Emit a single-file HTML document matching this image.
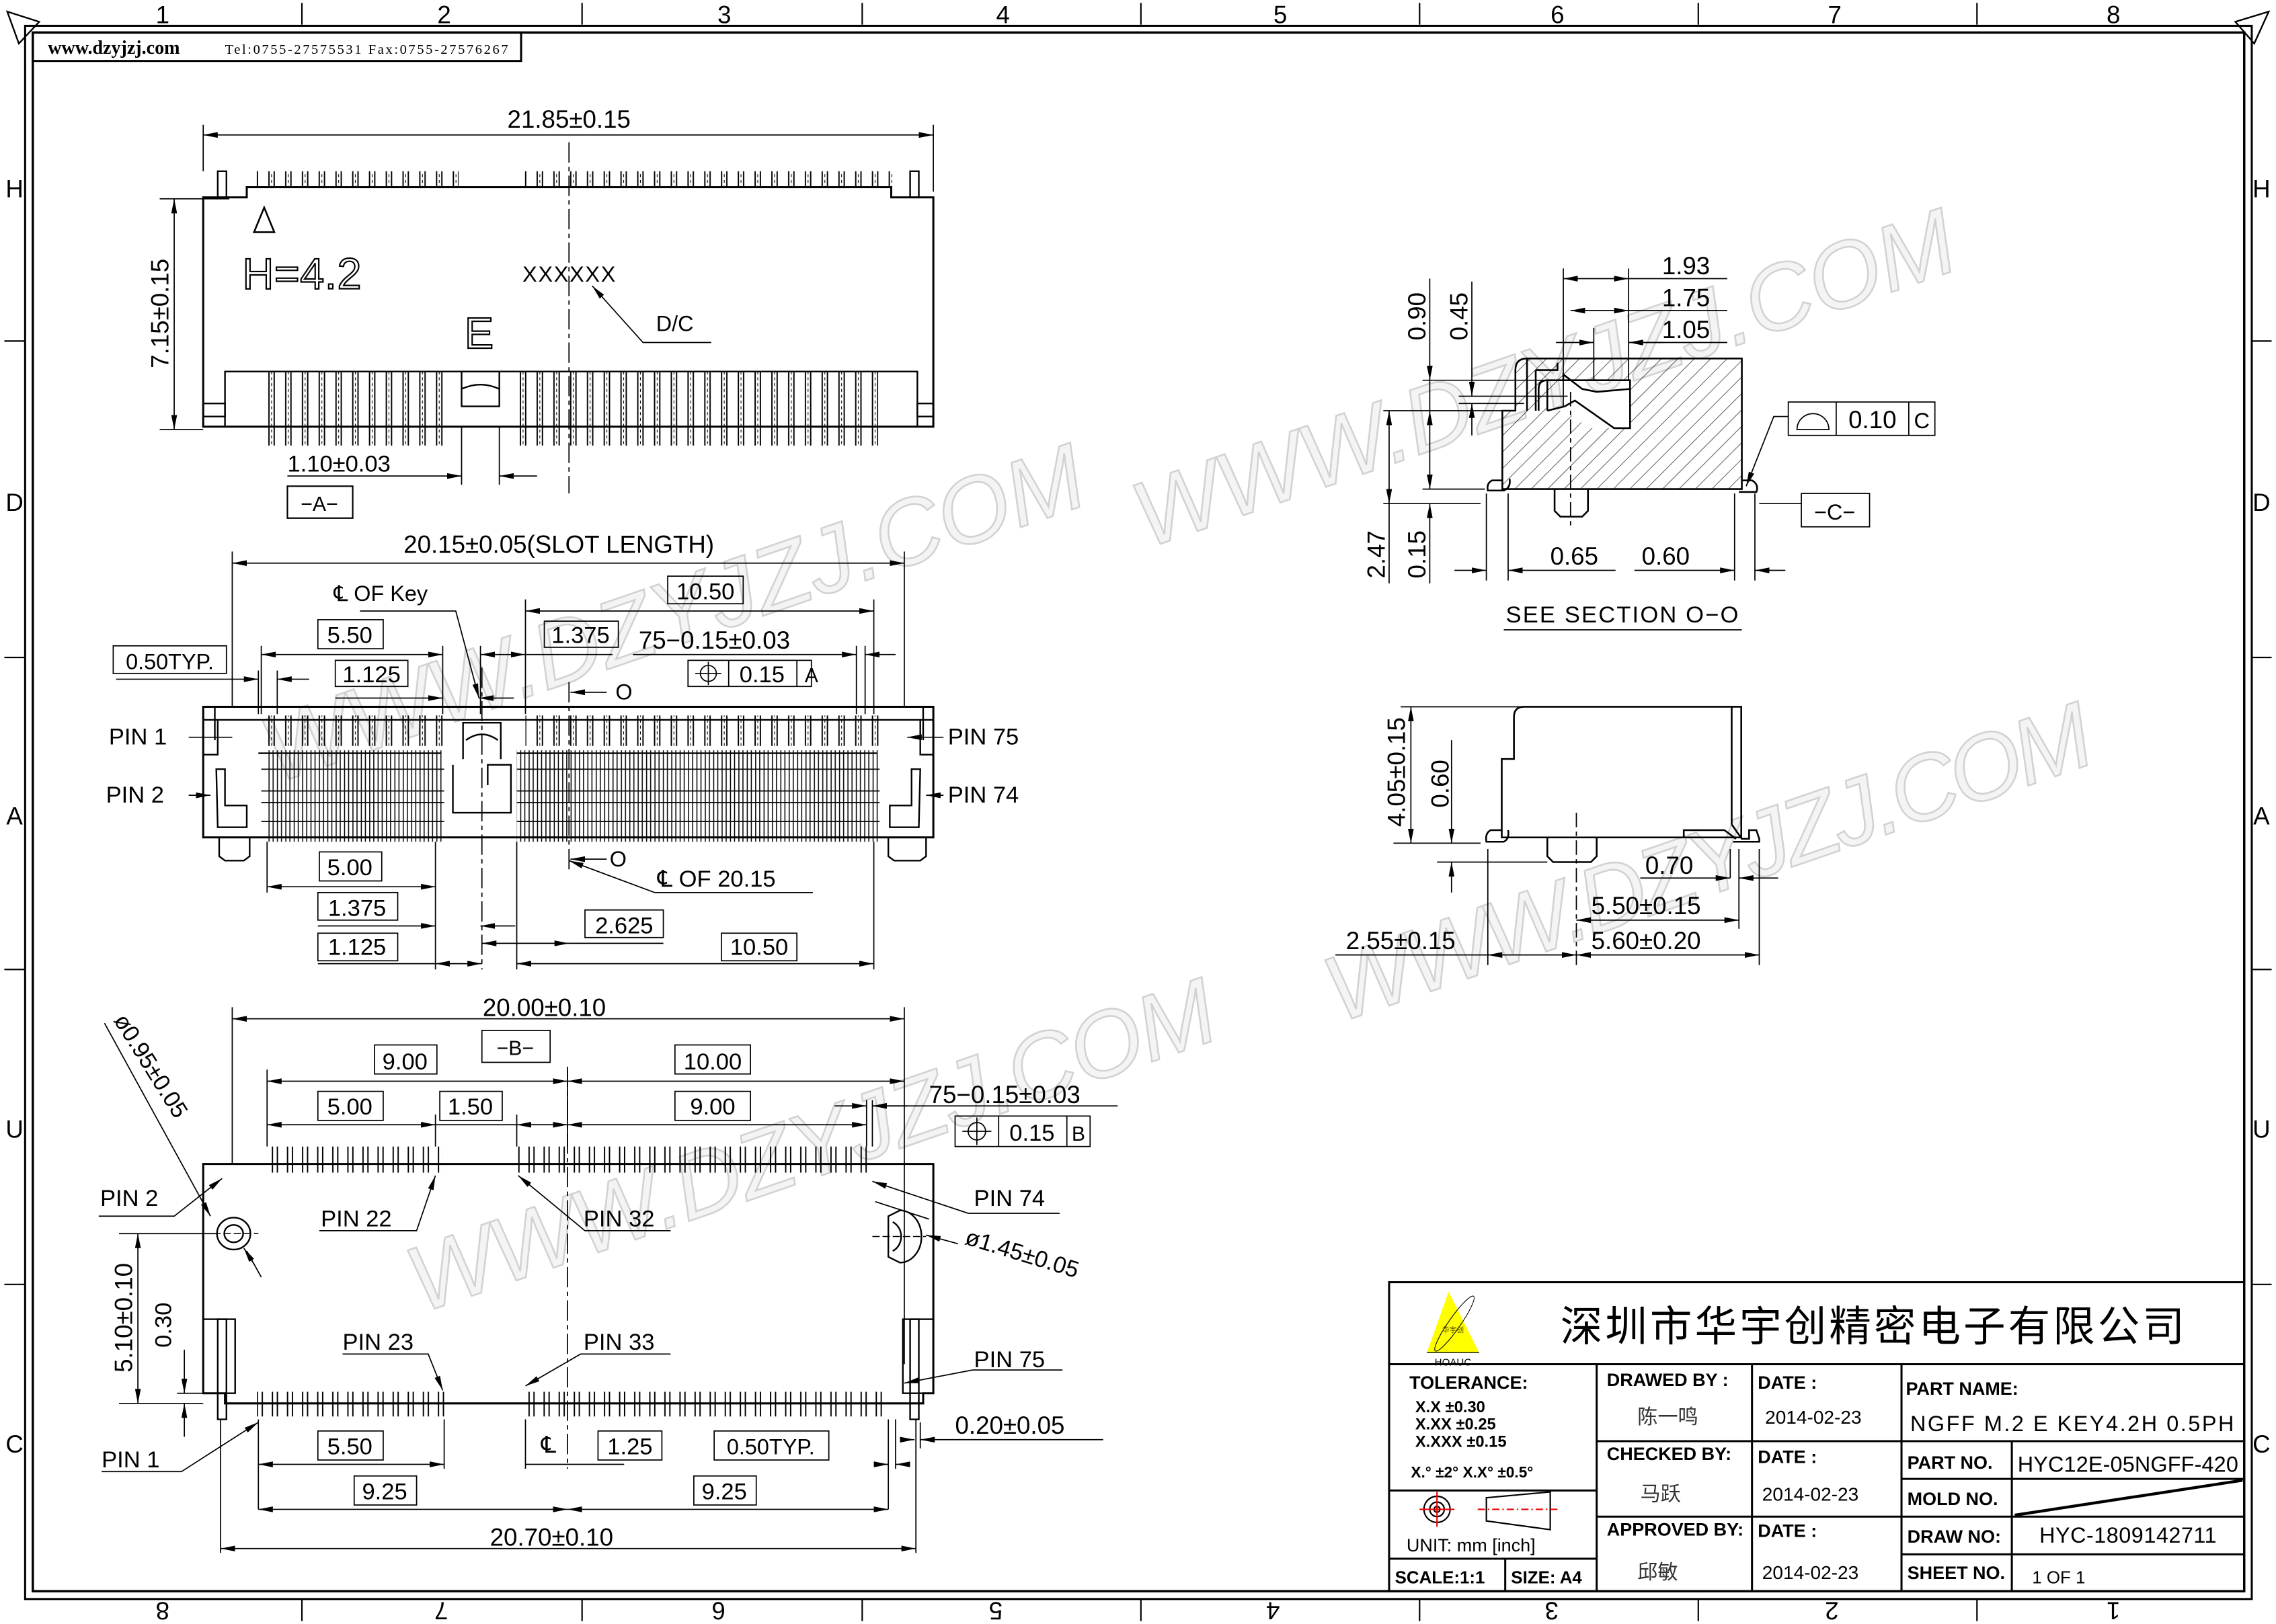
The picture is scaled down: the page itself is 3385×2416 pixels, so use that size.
<!DOCTYPE html>
<html><head><meta charset="utf-8">
<style>
html,body{margin:0;padding:0;background:#fff;}
svg{display:block;}
text{font-family:"Liberation Sans","Noto Sans CJK SC",sans-serif;fill:#000;}
.s{font-family:"Liberation Serif","Noto Serif CJK SC",serif;}
</style></head><body>
<svg width="3385" height="2416" viewBox="0 0 1568 1119" preserveAspectRatio="none" xmlns="http://www.w3.org/2000/svg">
<defs>
<marker id="a" viewBox="0 0 10 4" refX="10" refY="2" markerWidth="10" markerHeight="4" markerUnits="userSpaceOnUse" orient="auto-start-reverse"><path d="M0,0 L10,2 L0,4z" fill="#000"/></marker>
<pattern id="pA" width="11.55" height="200" patternUnits="userSpaceOnUse"><rect x="0.5" y="-1" width="3.6" height="202" fill="none" stroke="#000" stroke-width="0.9"/><line x1="2.3" y1="0" x2="2.3" y2="200" stroke="#000" stroke-width="0.5" stroke-dasharray="2,2"/></pattern>
<pattern id="pB" width="5.78" height="200" patternUnits="userSpaceOnUse"><rect x="0.4" y="-1" width="2.8" height="202" fill="none" stroke="#000" stroke-width="0.7"/></pattern>
<pattern id="pC" width="10.4" height="200" patternUnits="userSpaceOnUse"><rect x="0.5" y="-1" width="3.4" height="202" fill="none" stroke="#000" stroke-width="0.9"/></pattern>
<pattern id="hat" width="8" height="8" patternUnits="userSpaceOnUse" patternTransform="rotate(45)"><line x1="0" y1="0" x2="0" y2="8" stroke="#000" stroke-width="0.6"/></pattern>
</defs>
<g fill="none" stroke="#000" stroke-width="1.1">
<rect x="17.3" y="17.8" width="1534" height="1084" stroke-width="1.4"/>
<rect x="22.6" y="22.4" width="1523.5" height="1074" stroke-width="1.6"/>
<rect x="22.6" y="22.4" width="336.4" height="19.6" stroke-width="1.4"/>
<path d="M5,8 L27,15 L13,30 Z"/>
<path d="M1563,8 L1540,15 L1553,30 Z"/>
<g stroke-width="1">
<line x1="208" y1="2" x2="208" y2="17"/><line x1="401" y1="2" x2="401" y2="17"/><line x1="594" y1="2" x2="594" y2="17"/><line x1="786" y1="2" x2="786" y2="17"/><line x1="978" y1="2" x2="978" y2="17"/><line x1="1170" y1="2" x2="1170" y2="17"/><line x1="1362" y1="2" x2="1362" y2="17"/>
<line x1="208" y1="1102" x2="208" y2="1117"/><line x1="401" y1="1102" x2="401" y2="1117"/><line x1="594" y1="1102" x2="594" y2="1117"/><line x1="786" y1="1102" x2="786" y2="1117"/><line x1="978" y1="1102" x2="978" y2="1117"/><line x1="1170" y1="1102" x2="1170" y2="1117"/><line x1="1362" y1="1102" x2="1362" y2="1117"/>
<line x1="3" y1="235" x2="17" y2="235"/><line x1="3" y1="453" x2="17" y2="453"/><line x1="3" y1="668" x2="17" y2="668"/><line x1="3" y1="885" x2="17" y2="885"/>
<line x1="1551" y1="235" x2="1565" y2="235"/><line x1="1551" y1="453" x2="1565" y2="453"/><line x1="1551" y1="668" x2="1565" y2="668"/><line x1="1551" y1="885" x2="1565" y2="885"/>
</g>
</g>
<g font-size="17" text-anchor="middle">
<text x="112" y="16">1</text><text x="306" y="16">2</text><text x="499" y="16">3</text><text x="691" y="16">4</text><text x="882" y="16">5</text><text x="1073" y="16">6</text><text x="1264" y="16">7</text><text x="1456" y="16">8</text>
<g transform="rotate(180 784 1110)"><text x="112" y="1116">1</text><text x="306" y="1116">2</text><text x="499" y="1116">3</text><text x="691" y="1116">4</text><text x="882" y="1116">5</text><text x="1073" y="1116">6</text><text x="1264" y="1116">7</text><text x="1456" y="1116">8</text></g>
<text x="10" y="136">H</text><text x="10" y="352">D</text><text x="10" y="568">A</text><text x="10" y="784">U</text><text x="10" y="1001">C</text>
<text x="1558" y="136">H</text><text x="1558" y="352">D</text><text x="1558" y="568">A</text><text x="1558" y="784">U</text><text x="1558" y="1001">C</text>
</g>
<text class="s" x="33" y="37" font-size="13" font-weight="bold">www.dzyjzj.com</text>
<text class="s" x="155" y="37" font-size="9.5" textLength="195">Tel:0755-27575531  Fax:0755-27576267</text>

<g font-size="64" font-style="italic" stroke="#d2d2d2" stroke-width="1.2" font-family="Liberation Sans,sans-serif" letter-spacing="6">
<text x="790" y="378" transform="rotate(-19 790 378)" textLength="600" style="fill:#f4f4f4">WWW.DZYJZJ.COM</text>
<text x="190" y="540" transform="rotate(-19 190 540)" textLength="600" style="fill:#f4f4f4">WWW.DZYJZJ.COM</text>
<text x="290" y="905" transform="rotate(-19 290 905)" textLength="590" style="fill:#f4f4f4">WWW.DZYJZJ.COM</text>
<text x="922" y="705" transform="rotate(-19 922 705)" textLength="560" style="fill:#f4f4f4">WWW.DZYJZJ.COM</text>
</g>

<!-- VIEW 1 -->
<g fill="none" stroke="#000" stroke-width="1.1">
<path d="M140,294 L140,136 L170,136 L170,129 L614,129 L614,136 L643,136 L643,294 Z" stroke-width="1.4"/>
<rect x="155" y="256" width="477" height="38"/>
<line x1="392" y1="98" x2="392" y2="340" stroke-width="0.8" stroke-dasharray="14,3,3,3"/>
<rect x="318" y="256" width="26" height="24"/>
<path d="M318,268 Q331,262 344,268"/>
<rect x="140" y="278" width="15" height="9"/><rect x="632" y="278" width="11" height="9"/>
<rect x="150" y="118" width="6" height="18"/><rect x="627" y="118" width="6" height="18"/>
</g>
<rect x="176" y="118" width="140" height="11" fill="url(#pA)"/>
<rect x="361" y="118" width="254" height="11" fill="url(#pA)"/>
<rect x="181" y="256" width="128" height="38" fill="url(#pA)"/>
<rect x="353" y="256" width="252" height="38" fill="url(#pA)"/>
<rect x="181" y="294" width="128" height="13" fill="url(#pA)"/>
<rect x="353" y="294" width="252" height="13" fill="url(#pA)"/>
<path d="M175,160 L182,143 L189,160 Z" fill="none" stroke="#000" stroke-width="1.2"/>
<text x="167" y="199" font-size="30" stroke="#000" stroke-width="1" textLength="82" style="fill:#fff">H=4.2</text>
<text x="320" y="240" font-size="30" stroke="#000" stroke-width="1" style="fill:#fff">E</text>
<text x="360" y="194" font-size="15" textLength="64">XXXXXX</text>
<g fill="none" stroke="#000" stroke-width="0.8"><path d="M408,197 L443,236 L490,236" marker-start="url(#a)"/></g>
<text x="452" y="228" font-size="15">D/C</text>
<g fill="none" stroke="#000" stroke-width="0.8">
<line x1="140" y1="86" x2="140" y2="118"/><line x1="643" y1="86" x2="643" y2="132"/>
<line x1="140" y1="93" x2="643" y2="93" marker-start="url(#a)" marker-end="url(#a)"/>
<line x1="110" y1="137" x2="158" y2="137"/><line x1="110" y1="296" x2="140" y2="296"/>
<line x1="120" y1="137" x2="120" y2="296" marker-start="url(#a)" marker-end="url(#a)"/>
<line x1="318" y1="294" x2="318" y2="334"/><line x1="344" y1="294" x2="344" y2="334"/>
<line x1="198" y1="328" x2="318" y2="328" marker-end="url(#a)"/><line x1="370" y1="328" x2="344" y2="328" marker-end="url(#a)"/>
<rect x="198" y="335" width="45" height="22" stroke-width="1"/>
</g>
<text x="392" y="88" font-size="17" text-anchor="middle">21.85±0.15</text>
<text transform="translate(116,216) rotate(-90)" font-size="17" text-anchor="middle">7.15±0.15</text>
<text x="198" y="325" font-size="16">1.10±0.03</text>
<text x="220" y="352" font-size="14" text-anchor="middle">−A−</text>

<!-- VIEW 2 -->
<g fill="none" stroke="#000" stroke-width="1.1">
<path d="M140,487 L643,487 L643,577 L140,577 Z" stroke-width="1.4"/>
<line x1="140" y1="496" x2="643" y2="496"/>
<line x1="148" y1="487" x2="148" y2="510"/><line x1="636" y1="487" x2="636" y2="510"/>
<path d="M150,496 L150,520 L140,520"/><path d="M634,496 L634,520 L643,520"/>
<path d="M149,530 L155,530 L155,555 L170,555 L170,570 L150,570 Z"/>
<path d="M634,530 L628,530 L628,555 L613,555 L613,570 L633,570 Z"/>
<line x1="178" y1="519" x2="304" y2="519"/><line x1="356" y1="519" x2="604" y2="519"/>
<path d="M319,523 L319,498 L345,498 L345,523"/><path d="M321,510 Q332,502 343,510"/>
<path d="M312,527 L312,560 L352,560 L352,527 L336,527 L336,541"/>
<path d="M151,577 L151,590 L155,593 L168,593 L172,590 L172,577"/>
<path d="M612,577 L612,590 L616,593 L634,593 L638,590 L638,577"/>
</g>
<rect x="178" y="493" width="130" height="21" fill="url(#pA)"/>
<rect x="362" y="493" width="246" height="21" fill="url(#pA)"/>
<rect x="183" y="517" width="123" height="63" fill="url(#pB)"/>
<rect x="356" y="517" width="250" height="63" fill="url(#pB)"/>
<g fill="none" stroke="#000" stroke-width="0.8">
<line x1="180" y1="530" x2="306" y2="530"/><line x1="356" y1="530" x2="606" y2="530"/>
<line x1="180" y1="545" x2="306" y2="545"/><line x1="356" y1="545" x2="606" y2="545"/>
<line x1="180" y1="553" x2="306" y2="553"/><line x1="356" y1="553" x2="606" y2="553"/>
<line x1="180" y1="566" x2="306" y2="566"/><line x1="356" y1="566" x2="606" y2="566"/>
<line x1="392" y1="470" x2="392" y2="600" stroke-dasharray="14,3,3,3"/>
<line x1="332" y1="460" x2="332" y2="668" stroke-dasharray="14,3,3,3"/>
<line x1="160" y1="380" x2="160" y2="487"/><line x1="623" y1="380" x2="623" y2="487"/>
<line x1="160" y1="388" x2="623" y2="388" marker-start="url(#a)" marker-end="url(#a)"/>
<rect x="460" y="397" width="52" height="19"/>
<line x1="362" y1="413" x2="362" y2="492"/><line x1="602" y1="413" x2="602" y2="492"/>
<line x1="362" y1="421" x2="602" y2="421" marker-start="url(#a)" marker-end="url(#a)"/>
<path d="M248,421 L314,421 L330,481" marker-end="url(#a)"/>
<rect x="219" y="427" width="45" height="20"/>
<line x1="180" y1="445" x2="180" y2="492"/><line x1="305" y1="445" x2="305" y2="492"/>
<line x1="180" y1="451" x2="305" y2="451" marker-start="url(#a)" marker-end="url(#a)"/>
<rect x="375" y="428" width="51" height="18"/>
<line x1="331" y1="445" x2="331" y2="492"/>
<line x1="331" y1="451" x2="362" y2="451" marker-start="url(#a)" marker-end="url(#a)"/>
<line x1="362" y1="451" x2="422" y2="451"/>
<line x1="436" y1="451" x2="590" y2="451" marker-end="url(#a)"/>
<line x1="617" y1="451" x2="596" y2="451" marker-end="url(#a)"/>
<line x1="590" y1="445" x2="590" y2="492"/><line x1="596" y1="445" x2="596" y2="492"/>
<rect x="474" y="455" width="85" height="18"/><line x1="502" y1="455" x2="502" y2="473"/><line x1="549" y1="455" x2="549" y2="473"/>
<circle cx="488" cy="464" r="5.5"/><line x1="479" y1="464" x2="497" y2="464"/><line x1="488" y1="456" x2="488" y2="472"/>
<rect x="78" y="445" width="78" height="19"/>
<line x1="80" y1="468" x2="178" y2="468" marker-end="url(#a)"/>
<line x1="213" y1="468" x2="191" y2="468" marker-end="url(#a)"/>
<line x1="178" y1="462" x2="178" y2="492"/><line x1="191" y1="462" x2="191" y2="492"/>
<rect x="231" y="455" width="50" height="18"/>
<line x1="231" y1="481" x2="305" y2="481" marker-end="url(#a)"/>
<line x1="354" y1="481" x2="330" y2="481" marker-end="url(#a)"/>
<line x1="418" y1="477" x2="393" y2="477" marker-end="url(#a)"/>
<line x1="130" y1="508" x2="160" y2="508"/><line x1="130" y1="548" x2="145" y2="548" marker-end="url(#a)"/>
<line x1="650" y1="508" x2="625" y2="508" marker-end="url(#a)"/><line x1="650" y1="548" x2="638" y2="548" marker-end="url(#a)"/>
<line x1="184" y1="580" x2="184" y2="615"/><line x1="300" y1="580" x2="300" y2="668"/>
<rect x="220" y="587" width="43" height="20"/>
<line x1="184" y1="611" x2="300" y2="611" marker-start="url(#a)" marker-end="url(#a)"/>
<line x1="418" y1="592" x2="393" y2="592" marker-end="url(#a)"/>
<path d="M451,615 L392,593" marker-end="url(#a)"/>
<line x1="451" y1="615" x2="560" y2="615"/>
<rect x="219" y="615" width="55" height="19"/>
<line x1="219" y1="638" x2="300" y2="638" marker-end="url(#a)"/>
<line x1="355" y1="638" x2="331" y2="638" marker-end="url(#a)"/>
<rect x="403" y="627" width="54" height="19"/>
<line x1="356" y1="580" x2="356" y2="668"/><line x1="602" y1="580" x2="602" y2="668"/>
<line x1="332" y1="650" x2="392" y2="650" marker-start="url(#a)" marker-end="url(#a)"/>
<line x1="392" y1="650" x2="457" y2="650"/>
<rect x="219" y="643" width="55" height="19"/>
<line x1="219" y1="664" x2="300" y2="664"/>
<line x1="300" y1="664" x2="332" y2="664" marker-start="url(#a)" marker-end="url(#a)"/>
<rect x="497" y="643" width="52" height="19"/>
<line x1="356" y1="664" x2="602" y2="664" marker-start="url(#a)" marker-end="url(#a)"/>
</g>
<g font-size="16">
<text x="385" y="381" text-anchor="middle" font-size="17">20.15±0.05(SLOT LENGTH)</text>
<text x="486" y="413" text-anchor="middle">10.50</text>
<text x="230" y="414" font-size="15">℄  OF  Key</text>
<text x="241" y="443" text-anchor="middle">5.50</text>
<text x="400" y="443" text-anchor="middle">1.375</text>
<text x="440" y="447" font-size="17">75−0.15±0.03</text>
<text x="525" y="470" text-anchor="middle">0.15</text><text x="559" y="470" text-anchor="middle" font-size="14">A</text>
<text x="117" y="461" text-anchor="middle" font-size="15">0.50TYP.</text>
<text x="256" y="470" text-anchor="middle">1.125</text>
<text x="424" y="482" font-size="15">O</text>
<text x="75" y="513">PIN  1</text><text x="73" y="553">PIN  2</text>
<text x="653" y="513">PIN  75</text><text x="653" y="553">PIN  74</text>
<text x="241" y="603" text-anchor="middle">5.00</text>
<text x="420" y="597" font-size="15">O</text>
<text x="453" y="611">℄  OF  20.15</text>
<text x="246" y="631" text-anchor="middle">1.375</text>
<text x="430" y="643" text-anchor="middle">2.625</text>
<text x="246" y="658" text-anchor="middle">1.125</text>
<text x="523" y="658" text-anchor="middle">10.50</text>
</g>

<!-- VIEW 3 -->
<g fill="none" stroke="#000" stroke-width="1.1">
<path d="M140,802 L643,802 L643,960 L636,960 L636,967 L155,967 L155,960 L140,960 Z" stroke-width="1.4"/>
<rect x="140" y="909" width="22" height="51"/><rect x="622" y="909" width="21" height="51"/>
<rect x="150" y="909" width="6" height="69"/><rect x="627" y="909" width="6" height="69"/>
<ellipse cx="161" cy="850" rx="11.5" ry="11"/><ellipse cx="161" cy="850" rx="6.5" ry="6"/>
<path d="M612,838 L620,834 A14,17 0 0 1 620,870 L612,866 Z"/><path d="M615,842 A10,11 0 0 1 615,862"/>
<line x1="147" y1="850" x2="178" y2="850" stroke-width="0.7" stroke-dasharray="5,2"/>
<line x1="601" y1="852" x2="638" y2="852" stroke-width="0.7" stroke-dasharray="5,2"/>
<line x1="391" y1="735" x2="391" y2="1012" stroke-width="0.8" stroke-dasharray="14,3,3,3"/>
</g>
<rect x="183" y="790" width="122" height="18" fill="url(#pC)"/>
<rect x="355" y="790" width="248" height="18" fill="url(#pC)"/>
<rect x="177" y="959" width="134" height="17" fill="url(#pC)"/>
<rect x="361" y="959" width="250" height="17" fill="url(#pC)"/>
<g fill="none" stroke="#000" stroke-width="0.8">
<line x1="160" y1="694" x2="160" y2="802"/><line x1="623" y1="694" x2="623" y2="940"/>
<line x1="160" y1="702" x2="623" y2="702" marker-start="url(#a)" marker-end="url(#a)"/>
<rect x="332" y="710" width="47" height="22"/>
<rect x="258" y="720" width="43" height="20"/><rect x="465" y="720" width="52" height="20"/>
<line x1="184" y1="737" x2="184" y2="790"/><line x1="391" y1="737" x2="391" y2="790"/>
<line x1="184" y1="745" x2="391" y2="745" marker-start="url(#a)" marker-end="url(#a)"/>
<line x1="391" y1="745" x2="623" y2="745" marker-start="url(#a)" marker-end="url(#a)"/>
<rect x="219" y="752" width="45" height="20"/><rect x="303" y="752" width="43" height="20"/><rect x="465" y="752" width="52" height="20"/>
<line x1="300" y1="768" x2="300" y2="790"/><line x1="356" y1="768" x2="356" y2="790"/>
<line x1="184" y1="775" x2="300" y2="775" marker-start="url(#a)" marker-end="url(#a)"/>
<line x1="300" y1="775" x2="356" y2="775"/>
<line x1="356" y1="775" x2="391" y2="775" marker-start="url(#a)" marker-end="url(#a)"/>
<line x1="391" y1="775" x2="597" y2="775" marker-start="url(#a)" marker-end="url(#a)"/>
<line x1="597" y1="758" x2="597" y2="790"/><line x1="601" y1="758" x2="601" y2="790"/>
<line x1="575" y1="762" x2="597" y2="762" marker-end="url(#a)"/><line x1="625" y1="762" x2="601" y2="762" marker-end="url(#a)"/>
<line x1="601" y1="762" x2="770" y2="762"/>
<rect x="658" y="769" width="93" height="21"/><line x1="688" y1="769" x2="688" y2="790"/><line x1="735" y1="769" x2="735" y2="790"/>
<circle cx="673" cy="779.5" r="6"/><line x1="663" y1="779.5" x2="683" y2="779.5"/><line x1="673" y1="770" x2="673" y2="789"/>
<path d="M68,838 L120,838 L153,812" marker-end="url(#a)"/>
<path d="M220,848 L287,848 L300,810" marker-end="url(#a)"/>
<path d="M462,848 L403,848 L357,810" marker-end="url(#a)"/>
<path d="M730,836 L667,836 L601,814" marker-end="url(#a)"/>
<path d="M236,933 L295,933 L305,958" marker-end="url(#a)"/>
<path d="M462,933 L400,933 L362,955" marker-end="url(#a)"/>
<path d="M732,944 L670,944 L623,953" marker-end="url(#a)"/>
<path d="M70,1014 L125,1014 L178,980" marker-end="url(#a)"/>
<path d="M72,705 L145,838" marker-end="url(#a)"/><line x1="170" y1="862" x2="180" y2="880"/>
<path d="M175,871 L168,860" marker-end="url(#a)"/>
<path d="M640,840 L603,828"/>
<path d="M660,857 L638,851" marker-end="url(#a)"/>
<line x1="82" y1="850" x2="150" y2="850"/><line x1="82" y1="967" x2="140" y2="967"/>
<line x1="95" y1="850" x2="95" y2="967" marker-start="url(#a)" marker-end="url(#a)"/>
<line x1="122" y1="960" x2="140" y2="960"/>
<line x1="127" y1="930" x2="127" y2="960" marker-end="url(#a)"/><line x1="127" y1="990" x2="127" y2="967" marker-end="url(#a)"/>
<line x1="178" y1="978" x2="178" y2="1040"/><line x1="306" y1="978" x2="306" y2="1012"/>
<line x1="362" y1="978" x2="362" y2="1012"/><line x1="612" y1="978" x2="612" y2="1040"/>
<line x1="152" y1="978" x2="152" y2="1070"/><line x1="631" y1="978" x2="631" y2="1070"/>
<rect x="219" y="986" width="45" height="20"/><rect x="412" y="986" width="44" height="20"/><rect x="492" y="986" width="79" height="20"/>
<line x1="178" y1="1009" x2="306" y2="1009" marker-start="url(#a)" marker-end="url(#a)"/>
<line x1="362" y1="1009" x2="391" y2="1009"/>
<line x1="391" y1="1009" x2="430" y2="1009"/>
<line x1="604" y1="1009" x2="612" y2="1009" marker-end="url(#a)"/><line x1="625" y1="1009" x2="617" y2="1009" marker-end="url(#a)"/>
<line x1="617" y1="978" x2="617" y2="1012"/>
<line x1="624" y1="992" x2="630" y2="992" marker-end="url(#a)"/><line x1="642" y1="992" x2="634" y2="992" marker-end="url(#a)"/>
<line x1="634" y1="980" x2="634" y2="998"/>
<line x1="642" y1="992" x2="760" y2="992"/>
<rect x="244" y="1017" width="43" height="20"/><rect x="478" y="1017" width="43" height="20"/>
<line x1="178" y1="1040" x2="391" y2="1040" marker-start="url(#a)" marker-end="url(#a)"/>
<line x1="391" y1="1040" x2="612" y2="1040" marker-start="url(#a)" marker-end="url(#a)"/>
<line x1="152" y1="1067" x2="631" y2="1067" marker-start="url(#a)" marker-end="url(#a)"/>
</g>
<g font-size="16">
<text x="375" y="700" text-anchor="middle" font-size="17">20.00±0.10</text>
<text x="355" y="727" text-anchor="middle" font-size="14">−B−</text>
<text x="279" y="737" text-anchor="middle">9.00</text><text x="491" y="737" text-anchor="middle">10.00</text>
<text x="241" y="768" text-anchor="middle">5.00</text><text x="324" y="768" text-anchor="middle">1.50</text><text x="491" y="768" text-anchor="middle">9.00</text>
<text x="640" y="760" font-size="17">75−0.15±0.03</text>
<text x="711" y="786" text-anchor="middle">0.15</text><text x="743" y="786" text-anchor="middle" font-size="14">B</text>
<text transform="translate(78,703) rotate(58)" font-size="16">ø0.95±0.05</text>
<text transform="translate(664,857) rotate(17)" font-size="16">ø1.45±0.05</text>
<text x="69" y="831">PIN  2</text><text x="221" y="845">PIN  22</text><text x="402" y="845">PIN  32</text><text x="671" y="831">PIN  74</text>
<text x="236" y="930">PIN  23</text><text x="402" y="930">PIN  33</text><text x="671" y="942">PIN  75</text><text x="70" y="1011">PIN  1</text>
<text transform="translate(91,908) rotate(-90)" text-anchor="middle" font-size="17">5.10±0.10</text>
<text transform="translate(118,913) rotate(-90)" text-anchor="middle">0.30</text>
<text x="241" y="1002" text-anchor="middle">5.50</text><text x="378" y="1001" text-anchor="middle">℄</text><text x="434" y="1002" text-anchor="middle">1.25</text><text x="531" y="1002" text-anchor="middle" font-size="15">0.50TYP.</text>
<text x="658" y="988" font-size="17">0.20±0.05</text>
<text x="265" y="1033" text-anchor="middle">9.25</text><text x="499" y="1033" text-anchor="middle">9.25</text>
<text x="380" y="1065" text-anchor="middle" font-size="17">20.70±0.10</text>
</g>

<!-- SECTION O-O -->
<path d="M1035,337 L1035,283 L1044,283 L1044,255 Q1044,247 1052,247 L1200,247 L1200,337 Z M1075,262 L1123,262 L1123,295 L1095,295 L1078,283 L1065,283 L1066,270 Z" fill="url(#hat)" fill-rule="evenodd"/>
<g fill="none" stroke="#000" stroke-width="1.2">
<path d="M1035,337 L1035,283 L1044,283 L1044,255 Q1044,247 1052,247 L1200,247 L1200,337 Z"/>
<path d="M1052,247 L1052,283 M1058,255 L1073,255 L1073,250 M1058,255 L1058,283 M1060,283 L1060,268 Q1060,262 1066,262 L1123,262 L1123,295 L1112,295 L1095,283 L1085,276 L1078,280 L1066,283 M1066,262 L1066,283 M1077,262 L1077,258 L1090,268 L1100,270 L1123,268"/>
<path d="M1071,337 L1071,352 L1075,356 L1090,356 L1094,352 L1094,337"/>
<path d="M1035,331 L1028,331 Q1024,333 1025,338 L1036,338 Q1041,336 1040,330"/>
<path d="M1200,331 L1207,331 Q1212,334 1210,339 L1198,339"/>
</g>
<g fill="none" stroke="#000" stroke-width="0.8">
<line x1="1082" y1="270" x2="1082" y2="362" stroke-dasharray="10,3,3,3"/>
<line x1="1077" y1="185" x2="1077" y2="280"/><line x1="1122" y1="185" x2="1122" y2="262"/><line x1="1098" y1="226" x2="1098" y2="262"/>
<line x1="1077" y1="192" x2="1122" y2="192" marker-start="url(#a)" marker-end="url(#a)"/><line x1="1122" y1="192" x2="1190" y2="192"/>
<line x1="1082" y1="214" x2="1122" y2="214" marker-start="url(#a)" marker-end="url(#a)"/><line x1="1122" y1="214" x2="1190" y2="214"/>
<line x1="1072" y1="236" x2="1098" y2="236" marker-end="url(#a)"/><line x1="1146" y1="236" x2="1122" y2="236" marker-end="url(#a)"/><line x1="1122" y1="236" x2="1190" y2="236"/>
<line x1="980" y1="262" x2="1080" y2="262"/><line x1="1005" y1="273" x2="1080" y2="273"/><line x1="1005" y1="278" x2="1050" y2="278"/>
<line x1="953" y1="283" x2="1035" y2="283"/><line x1="980" y1="337" x2="1023" y2="337"/><line x1="953" y1="347" x2="1020" y2="347"/>
<line x1="985" y1="192" x2="985" y2="262" marker-end="url(#a)"/><line x1="985" y1="262" x2="985" y2="283"/><line x1="985" y1="283" x2="985" y2="337" marker-start="url(#a)" marker-end="url(#a)"/>
<line x1="985" y1="402" x2="985" y2="347" marker-end="url(#a)"/>
<line x1="1014" y1="194" x2="1014" y2="273" marker-end="url(#a)"/><line x1="1014" y1="300" x2="1014" y2="278" marker-end="url(#a)"/>
<line x1="957" y1="283" x2="957" y2="347" marker-start="url(#a)" marker-end="url(#a)"/><line x1="957" y1="347" x2="957" y2="402"/>
<line x1="1024" y1="340" x2="1024" y2="400"/><line x1="1039" y1="340" x2="1039" y2="400"/><line x1="1195" y1="340" x2="1195" y2="400"/><line x1="1209" y1="340" x2="1209" y2="400"/>
<line x1="1002" y1="393" x2="1024" y2="393" marker-end="url(#a)"/><line x1="1039" y1="393" x2="1113" y2="393" marker-start="url(#a)"/>
<line x1="1126" y1="393" x2="1195" y2="393" marker-end="url(#a)"/><line x1="1230" y1="393" x2="1209" y2="393" marker-end="url(#a)"/>
<path d="M1232,287 L1222,287 L1203,335" marker-end="url(#a)"/>
<rect x="1232" y="277" width="101" height="23"/><line x1="1265" y1="277" x2="1265" y2="300"/><line x1="1315" y1="277" x2="1315" y2="300"/>
<path d="M1238,296 A11,11 0 0 1 1260,296 Z"/>
<line x1="1212" y1="347" x2="1241" y2="347"/>
<rect x="1241" y="340" width="47" height="23"/>
<line x1="1036" y1="434" x2="1200" y2="434"/>
</g>
<g font-size="17">
<text x="1145" y="189">1.93</text><text x="1145" y="211">1.75</text><text x="1145" y="233">1.05</text>
<text transform="translate(982,218) rotate(-90)" text-anchor="middle">0.90</text>
<text transform="translate(1011,218) rotate(-90)" text-anchor="middle">0.45</text>
<text transform="translate(954,382) rotate(-90)" text-anchor="middle">2.47</text>
<text transform="translate(982,382) rotate(-90)" text-anchor="middle">0.15</text>
<text x="1068" y="389">0.65</text><text x="1131" y="389">0.60</text>
<text x="1290" y="295" text-anchor="middle">0.10</text><text x="1324" y="295" text-anchor="middle" font-size="15">C</text>
<text x="1264" y="358" text-anchor="middle" font-size="15">−C−</text>
<text x="1118" y="429" text-anchor="middle" font-size="16" letter-spacing="1">SEE  SECTION  O−O</text>
</g>

<!-- SIDE VIEW -->
<g fill="none" stroke="#000" stroke-width="1.2">
<path d="M1034.6,577 L1034.6,523 L1043,523 L1043,494 Q1043,487 1050,487 L1199.6,487 L1199.6,577 Z"/>
<line x1="1193" y1="487" x2="1193" y2="568"/><path d="M1193,568 L1200,578 L1205,578 L1205,572 L1210,572 L1212,578 L1212,580 L1194,580"/>
<path d="M1160,577 L1160,572 L1188,572 L1196,578"/>
<path d="M1035,572 L1027,572 Q1023,574 1024,580 L1036,580 Q1040,578 1039,572"/>
<path d="M1066,577 L1066,590 L1070,594 L1096,594 L1100,590 L1100,577"/>
</g>
<g fill="none" stroke="#000" stroke-width="0.8">
<line x1="1086" y1="560" x2="1086" y2="665" stroke-dasharray="10,3,3,3"/>
<line x1="965" y1="487" x2="1050" y2="487"/><line x1="960" y1="581" x2="1020" y2="581"/><line x1="990" y1="594" x2="1066" y2="594"/>
<line x1="972" y1="487" x2="972" y2="581" marker-start="url(#a)" marker-end="url(#a)"/>
<line x1="1000" y1="510" x2="1000" y2="581" marker-end="url(#a)"/><line x1="1000" y1="615" x2="1000" y2="594" marker-end="url(#a)"/>
<line x1="1025" y1="585" x2="1025" y2="665"/><line x1="1192" y1="585" x2="1192" y2="605"/><line x1="1198" y1="585" x2="1198" y2="640"/><line x1="1212" y1="585" x2="1212" y2="665"/>
<line x1="1130" y1="605" x2="1192" y2="605" marker-end="url(#a)"/><line x1="1225" y1="605" x2="1198" y2="605" marker-end="url(#a)"/>
<line x1="1086" y1="634" x2="1198" y2="634" marker-start="url(#a)" marker-end="url(#a)"/>
<line x1="920" y1="658" x2="1025" y2="658"/>
<line x1="1025" y1="658" x2="1086" y2="658" marker-start="url(#a)" marker-end="url(#a)"/>
<line x1="1086" y1="658" x2="1212" y2="658" marker-start="url(#a)" marker-end="url(#a)"/>
</g>
<g font-size="17">
<text transform="translate(968,532) rotate(-90)" text-anchor="middle">4.05±0.15</text>
<text transform="translate(998,540) rotate(-90)" text-anchor="middle">0.60</text>
<text x="1150" y="602" text-anchor="middle">0.70</text>
<text x="1134" y="630" text-anchor="middle">5.50±0.15</text>
<text x="965" y="654" text-anchor="middle">2.55±0.15</text>
<text x="1134" y="654" text-anchor="middle">5.60±0.20</text>
</g>

<!-- TITLE BLOCK -->
<g fill="none" stroke="#000" stroke-width="1.4">
<rect x="957" y="883.5" width="589" height="213"/>
<line x1="957" y1="940" x2="1546" y2="940"/>
<line x1="1100" y1="940" x2="1100" y2="1097"/><line x1="1207" y1="940" x2="1207" y2="1097"/><line x1="1310" y1="940" x2="1310" y2="1097"/><line x1="1386" y1="993" x2="1386" y2="1097"/>
<line x1="1100" y1="993" x2="1546" y2="993"/><line x1="1100" y1="1045" x2="1546" y2="1045"/>
<line x1="1310" y1="1019" x2="1546" y2="1019"/><line x1="1310" y1="1071" x2="1546" y2="1071"/>
<line x1="957" y1="1027" x2="1100" y2="1027"/><line x1="957" y1="1074" x2="1100" y2="1074"/><line x1="1037" y1="1074" x2="1037" y2="1097"/>
<line x1="1388" y1="1044" x2="1545" y2="1020" stroke-width="2"/>
</g>
<path d="M998,890 L983,932 L1019,932 Z" fill="#ffff00"/>
<ellipse cx="1002" cy="912" rx="4" ry="23" transform="rotate(35 1002 912)" fill="none" stroke="#000" stroke-width="0.5"/>
<text x="1001" y="918" font-size="5" text-anchor="middle" style="fill:#5a4a00">华宇创</text>
<line x1="983" y1="932" x2="1019" y2="932" stroke="#000" stroke-width="0.6"/>
<text x="1001" y="941" font-size="7" text-anchor="middle">HOAUC</text>
<text x="1075" y="924" font-size="29" textLength="430" style="font-family:'Noto Sans CJK SC','WenQuanYi Zen Hei',sans-serif">深圳市华宇创精密电子有限公司</text>
<g font-size="12.5" font-weight="bold">
<text x="971" y="957">TOLERANCE:</text>
<text x="975" y="973" font-size="11">X.X     ±0.30</text>
<text x="975" y="985" font-size="11">X.XX   ±0.25</text>
<text x="975" y="997" font-size="11">X.XXX ±0.15</text>
<text x="972" y="1018" font-size="10.5">X.° ±2°     X.X° ±0.5°</text>
<text x="969" y="1069" font-size="12.5" font-weight="normal">UNIT:  mm  [inch]</text>
<text x="961" y="1091" font-size="12">SCALE:1:1</text>
<text x="1041" y="1091" font-size="12">SIZE:  A4</text>
<text x="1107" y="955">DRAWED  BY :</text><text x="1211" y="957">DATE  :</text>
<text x="1313" y="961">PART  NAME:</text>
<text x="1107" y="1006">CHECKED  BY:</text><text x="1211" y="1008">DATE  :</text>
<text x="1314" y="1012">PART  NO.</text><text x="1314" y="1037">MOLD  NO.</text>
<text x="1107" y="1058">APPROVED  BY:</text><text x="1211" y="1059">DATE  :</text>
<text x="1314" y="1063">DRAW  NO:</text><text x="1314" y="1088">SHEET  NO.</text>
</g>
<g class="s" font-size="14" style="font-family:'Liberation Serif','Noto Serif CJK SC',serif">
<text x="1128" y="981" style="fill:#333">陈一鸣</text>
<text x="1216" y="981" font-size="13">2014-02-23</text>
<text x="1130" y="1034" style="fill:#333">马跃</text>
<text x="1214" y="1034" font-size="13">2014-02-23</text>
<text x="1128" y="1088" style="fill:#333">邱敏</text>
<text x="1214" y="1088" font-size="13">2014-02-23</text>
<text x="1316" y="986" font-size="15" textLength="223">NGFF M.2 E KEY4.2H 0.5PH</text>
<text x="1390" y="1014" font-size="15" textLength="152">HYC12E-05NGFF-420</text>
<text x="1405" y="1063" font-size="15" textLength="122">HYC-1809142711</text>
<text x="1400" y="1091" font-size="12">1  OF  1</text>
</g>
<g fill="none" stroke="#000" stroke-width="1">
<circle cx="990" cy="1040" r="9"/><circle cx="990" cy="1040" r="5"/><circle cx="990" cy="1040" r="2"/>
<line x1="978" y1="1040" x2="1002" y2="1040" stroke="#e00"/><line x1="990" y1="1028" x2="990" y2="1052" stroke="#e00"/>
<path d="M1024,1032 L1068,1028 L1068,1054 L1024,1048 Z"/>
<line x1="1018" y1="1040" x2="1074" y2="1040" stroke="#e00" stroke-dasharray="5,2,1,2"/>
</g>
</svg>
</body></html>
